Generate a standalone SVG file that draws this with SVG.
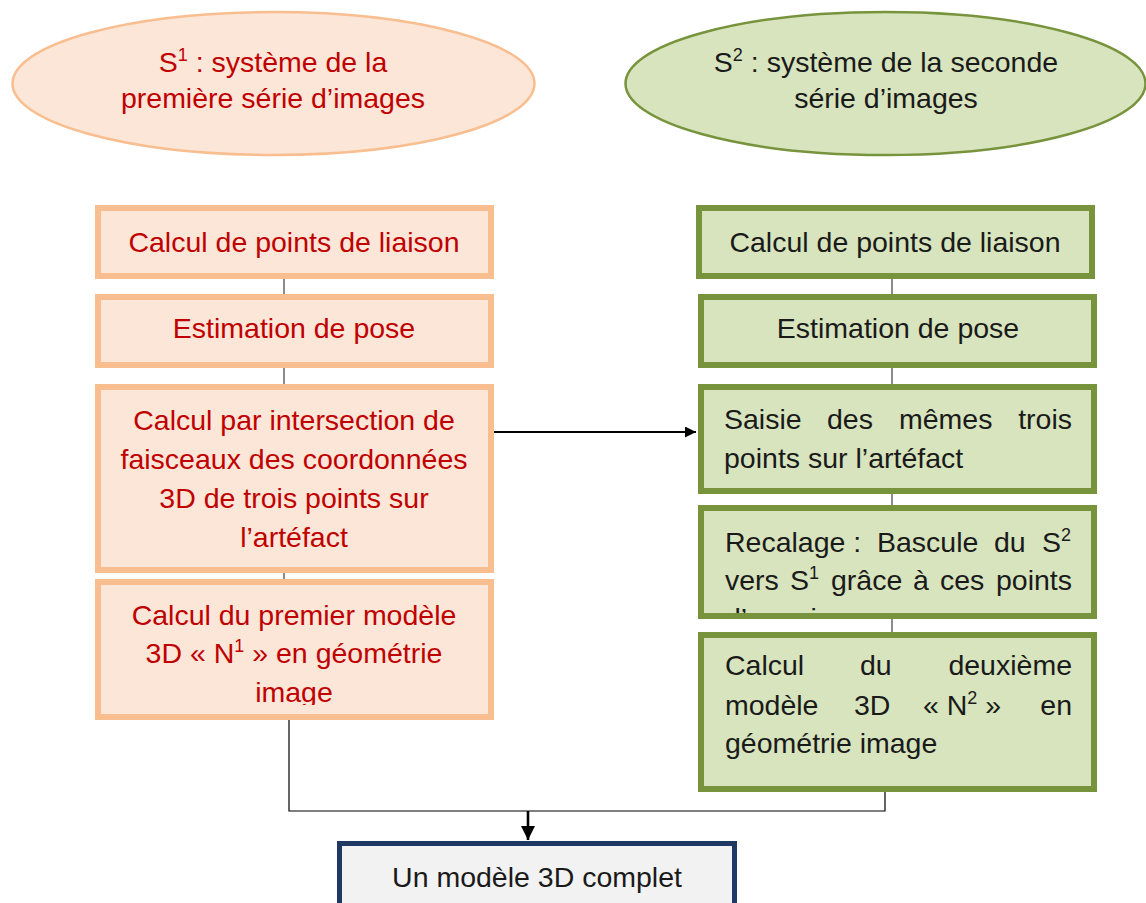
<svg xmlns="http://www.w3.org/2000/svg" width="1146" height="903" viewBox="0 0 1146 903">
<style>
text{font-family:"Liberation Sans",Arial,sans-serif;font-size:28.5px}
.r{fill:#C00000}
.k{fill:#1A1A1A}
.m{text-anchor:middle}
.e{text-anchor:end}
.sup{font-size:18px}
.ob{fill:#FCE6D8;stroke:#F9BE8F;stroke-width:6}
.gb{fill:#D7E4BD;stroke:#77933C;stroke-width:6}
.ln{fill:none;stroke:#404040;stroke-width:1.2}
.ar{fill:none;stroke:#000;stroke-width:2}
</style>
<defs>
<marker id="ah" viewBox="0 0 10 10" refX="10" refY="5" markerWidth="5.5" markerHeight="5.5" orient="auto" markerUnits="strokeWidth">
<path d="M0,0 L10,5 L0,10 Z" fill="#000"/>
</marker>
<clipPath id="c4"><rect x="98" y="582" width="393" height="123"/></clipPath>
<clipPath id="c9"><rect x="701" y="508" width="393" height="105"/></clipPath>
</defs>

<g id="connectors">
<path class="ln" d="M284,279 V294 M284,368 V384 M284,573 V579"/>
<path class="ln" d="M892,279 V294 M892,368 V384 M892,494 V505 M892,619 V632"/>
<path class="ar" d="M494,432 H696" marker-end="url(#ah)"/>
<path class="ln" style="stroke:#000" d="M289,720 V811 H885 V792"/>
<path class="ar" style="stroke-width:2.6" d="M528,811 V840" marker-end="url(#ah)"/>
</g>

<g id="s1">
<ellipse cx="273.5" cy="83.5" rx="261" ry="71.5" fill="#FCE6D8" stroke="#F9BE8F" stroke-width="2.5"/>
<text class="r m" x="273" y="72">S<tspan class="sup" dy="-11">1</tspan><tspan dy="11"> : système de la</tspan></text>
<text class="r m" x="273" y="108">première série d’images</text>
</g>

<g id="s2">
<ellipse cx="885.5" cy="83.5" rx="260" ry="71.5" fill="#D7E4BD" stroke="#77933C" stroke-width="2.5"/>
<text class="k m" x="886" y="72">S<tspan class="sup" dy="-11">2</tspan><tspan dy="11"> : système de la seconde</tspan></text>
<text class="k m" x="886" y="108">série d’images</text>
</g>

<g id="l1">
<rect class="ob" x="98" y="208" width="393" height="68"/>
<text class="r m" x="294" y="252">Calcul de points de liaison</text>
</g>
<g id="l2">
<rect class="ob" x="98" y="297" width="393" height="68"/>
<text class="r m" x="294" y="338">Estimation de pose</text>
</g>
<g id="l3">
<rect class="ob" x="98" y="387" width="393" height="183"/>
<text class="r m" x="294" y="430">Calcul par intersection de</text>
<text class="r m" x="294" y="469">faisceaux des coordonnées</text>
<text class="r m" x="294" y="508">3D de trois points sur</text>
<text class="r m" x="294" y="547">l’artéfact</text>
</g>
<g id="l4">
<rect class="ob" x="98" y="582" width="393" height="135"/>
<text class="r m" x="294" y="625">Calcul du premier modèle</text>
<text class="r m" x="294" y="663">3D « N<tspan class="sup" dy="-11">1</tspan><tspan dy="11"> » en géométrie</tspan></text>
<g clip-path="url(#c4)"><text class="r m" x="294" y="702">image</text></g>
</g>

<g id="r1">
<rect class="gb" x="699" y="208" width="393" height="68"/>
<text class="k m" x="895" y="252">Calcul de points de liaison</text>
</g>
<g id="r2">
<rect class="gb" x="701" y="297" width="393" height="68"/>
<text class="k m" x="898" y="338">Estimation de pose</text>
</g>
<g id="r3">
<rect class="gb" x="701" y="387" width="393" height="104"/>
<text class="k" x="724" y="429">Saisie</text>
<text class="k" x="827" y="429">des</text>
<text class="k" x="899" y="429">mêmes</text>
<text class="k e" x="1072" y="429">trois</text>
<text class="k" x="724" y="468">points sur l’artéfact</text>
</g>
<g id="r4">
<rect class="gb" x="701" y="508" width="393" height="108"/>
<text class="k" x="725" y="552">Recalage :</text>
<text class="k" x="877" y="552">Bascule</text>
<text class="k" x="994" y="552">du</text>
<text class="k" x="1042" y="552">S<tspan class="sup" dy="-11">2</tspan></text>
<text class="k" x="725" y="590">vers</text>
<text class="k" x="790" y="590">S<tspan class="sup" dy="-11">1</tspan></text>
<text class="k" x="831" y="590">grâce</text>
<text class="k" x="913" y="590">à</text>
<text class="k" x="940" y="590">ces</text>
<text class="k e" x="1072" y="590">points</text>
<g clip-path="url(#c9)"><text class="k" x="725" y="628">d’appui</text></g>
</g>
<g id="r5">
<rect class="gb" x="701" y="635" width="393" height="154"/>
<text class="k" x="725" y="675">Calcul</text>
<text class="k" x="860" y="675">du</text>
<text class="k e" x="1072" y="675">deuxième</text>
<text class="k" x="725" y="715">modèle</text>
<text class="k" x="854" y="715">3D</text>
<text class="k" x="923" y="715">« N<tspan class="sup" dy="-11">2</tspan><tspan dy="11"> »</tspan></text>
<text class="k e" x="1072" y="715">en</text>
<text class="k" x="725" y="753">géométrie image</text>
</g>

<g id="final">
<rect x="339.5" y="843.5" width="395" height="70" fill="#F2F2F2" stroke="#1F3864" stroke-width="5"/>
<text class="k m" x="537" y="887">Un modèle 3D complet</text>
</g>
</svg>
